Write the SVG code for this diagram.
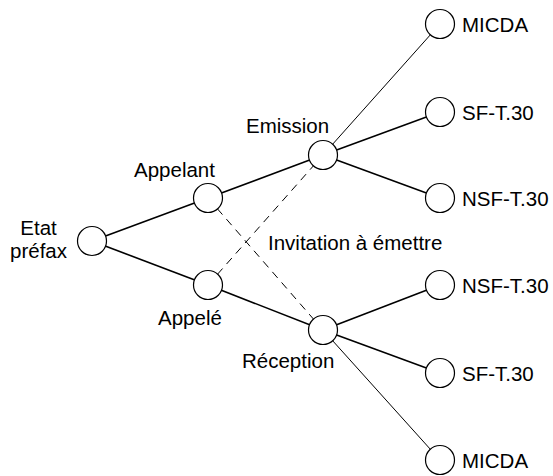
<svg xmlns="http://www.w3.org/2000/svg" width="553" height="476" viewBox="0 0 553 476">
<style>
text{font-family:"Liberation Sans",Arial,sans-serif;font-size:20.5px;fill:#000}
.n{fill:#fff;stroke:#000;stroke-width:1.2}
.t{stroke:#000;stroke-width:1.6;fill:none}
.f{stroke:#000;stroke-width:1;fill:none}
.d{stroke:#000;stroke-width:1;fill:none;stroke-dasharray:8 6}
</style>
<rect width="553" height="476" fill="#fff"/>
<g id="connectors">
<line class="t" x1="92" y1="241" x2="208" y2="198"/>
<line class="t" x1="92" y1="241" x2="208" y2="285"/>
<line class="t" x1="208" y1="198" x2="323" y2="155"/>
<line class="t" x1="208" y1="285" x2="323" y2="330"/>
<line class="d" x1="208" y1="198" x2="323" y2="330"/>
<line class="d" x1="208" y1="285" x2="323" y2="155"/>
<line class="f" x1="323" y1="155" x2="440" y2="24"/>
<line class="t" x1="323" y1="155" x2="440" y2="112"/>
<line class="t" x1="323" y1="155" x2="440" y2="198"/>
<line class="t" x1="323" y1="330" x2="440" y2="285"/>
<line class="t" x1="323" y1="330" x2="440" y2="373"/>
<line class="f" x1="323" y1="330" x2="440" y2="460"/>
</g>
<g id="etat"><circle class="n" cx="92" cy="241" r="14.5"/><text x="38.5" y="234.5" text-anchor="middle">Etat</text><text x="38.5" y="258" text-anchor="middle">préfax</text></g>
<g id="appelant"><circle class="n" cx="208" cy="198" r="14.5"/><text x="134" y="177">Appelant</text></g>
<g id="appele"><circle class="n" cx="208" cy="285" r="14.5"/><text x="158" y="325">Appelé</text></g>
<g id="emission"><circle class="n" cx="323" cy="155" r="14.5"/><text x="246" y="133">Emission</text></g>
<g id="reception"><circle class="n" cx="323" cy="330" r="14.5"/><text x="242" y="368">Réception</text></g>
<g id="invitation"><text x="268" y="250">Invitation à émettre</text></g>
<g id="micda1"><circle class="n" cx="440" cy="24" r="14.5"/><text x="462" y="32">MICDA</text></g>
<g id="sf1"><circle class="n" cx="440" cy="112" r="14.5"/><text x="462" y="120">SF-T.30</text></g>
<g id="nsf1"><circle class="n" cx="440" cy="198" r="14.5"/><text x="462" y="206">NSF-T.30</text></g>
<g id="nsf2"><circle class="n" cx="440" cy="285" r="14.5"/><text x="462" y="293">NSF-T.30</text></g>
<g id="sf2"><circle class="n" cx="440" cy="373" r="14.5"/><text x="462" y="381">SF-T.30</text></g>
<g id="micda2"><circle class="n" cx="440" cy="460" r="14.5"/><text x="462" y="468">MICDA</text></g>
</svg>
